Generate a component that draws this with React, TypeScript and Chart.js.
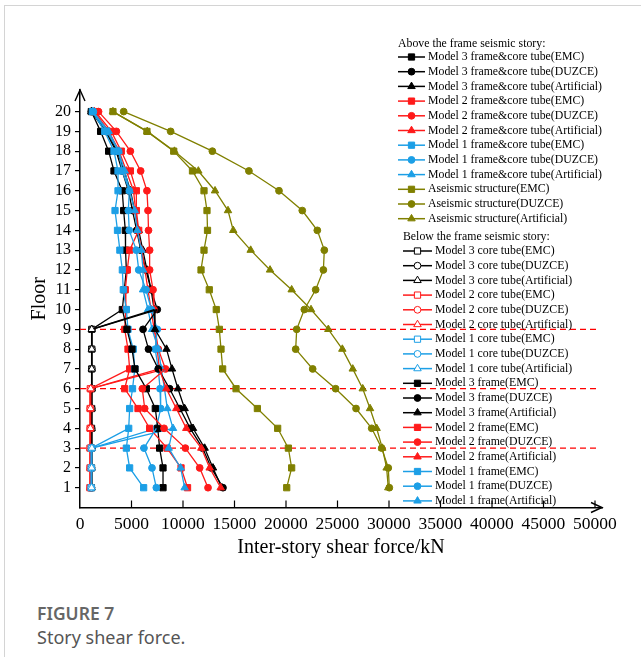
import React, { useEffect, useRef } from "react";
import { Chart, registerables } from "chart.js";

Chart.register(...registerables);

const SERIF = "'Liberation Serif', 'Times New Roman', serif";

// Floors, listed from the roof downwards
const floorsAll = [20, 19, 18, 17, 16, 15, 14, 13, 12, 11, 10, 9, 8, 7, 6, 5, 4, 3, 2, 1];
const floorsM3Above = [20, 19, 18, 17, 16, 15, 14, 13, 12, 11, 10];
const floorsM2Above = [20, 19, 18, 17, 16, 15, 14, 13, 12, 11, 10, 9, 8, 7];
const floorsM1Above = [20, 19, 18, 17, 16, 15, 14, 13, 12, 11, 10, 9, 8, 7, 6, 5, 4];
const floorsM3Below = [9, 8, 7, 6, 5, 4, 3, 2, 1];
const floorsM2Below = [6, 5, 4, 3, 2, 1];
const floorsM1Below = [3, 2, 1];

// Frame seismic stories of models 3, 2 and 1
const seismicStories = [9, 6, 3];

const xTicks = [0, 5000, 10000, 15000, 20000, 25000, 30000, 35000, 40000, 45000, 50000];
const yTicks = [1, 2, 3, 4, 5, 6, 7, 8, 9, 10, 11, 12, 13, 14, 15, 16, 17, 18, 19, 20];

// Shear force (kN) above the frame seismic story: frame & core tube together
const m3EMC = [1100, 2000, 2780, 3300, 4100, 4240, 4400, 4420, 4500, 4300, 4110];
const m3DUZCE = [1100, 2500, 3500, 4100, 4700, 5100, 5500, 5900, 6400, 6900, 7500];
const m3Artificial = [1100, 2600, 3600, 4300, 4900, 5300, 5700, 6100, 6500, 6900, 7200];

const m2EMC = [1500, 3040, 4010, 4890, 5470, 5470, 5700, 4820, 4590, 4400, 4450, 4340, 4660, 4820];
const m2DUZCE = [1800, 3530, 4890, 5890, 6500, 6600, 6650, 6760, 6760, 7090, 7180, 7300, 7600, 8300];
const m2Artificial = [1400, 2800, 3800, 4500, 5200, 5400, 5600, 6000, 6300, 6600, 6900, 7200, 7500, 7700];

const m1EMC = [1200, 2400, 3300, 3690, 3690, 3400, 3640, 3870, 4110, 4200, 4500, 4660, 5170, 5320, 5100, 4820, 4730];
const m1DUZCE = [1300, 2600, 3750, 4100, 4790, 4690, 4780, 5470, 5700, 6410, 6920, 7500, 7300, 7600, 7770, 7830, 7410];
const m1Artificial = [1250, 2780, 3750, 4340, 4820, 5310, 5560, 5950, 6120, 6120, 6600, 7000, 7600, 7900, 8200, 8480, 9030];

const aseismicEMC = [3200, 6500, 9100, 10920, 12040, 12330, 12380, 12040, 11750, 12550, 13230, 13530, 13690, 13850, 15150, 17220, 19190, 20230, 20550, 20070];
const aseismicDUZCE = [4240, 8800, 12850, 16400, 19320, 21580, 23040, 23720, 23630, 22880, 21780, 21040, 20940, 22590, 24820, 26800, 28320, 29290, 29930, 30030];
const aseismicArtificial = [3200, 6530, 9170, 11490, 13110, 14370, 14880, 16570, 18450, 20550, 22430, 24110, 25470, 26480, 27450, 28160, 28800, 29350, 29770, 29930];

// Below the frame seismic story: core tube share
const m3CoreEMC = [1140, 1140, 1140, 1130, 1130, 1120, 1120, 1120, 1110];
const m3CoreDUZCE = [1160, 1150, 1150, 1140, 1140, 1130, 1130, 1120, 1120];
const m3CoreArtificial = [1140, 1140, 1140, 1150, 1140, 1140, 1130, 1130, 1130];
const m2CoreEMC = [1000, 980, 980, 970, 970, 960];
const m2CoreDUZCE = [1020, 1000, 1000, 990, 990, 980];
const m2CoreArtificial = [1040, 1020, 1010, 1000, 1000, 990];
const m1CoreEMC = [1100, 1090, 1080];
const m1CoreDUZCE = [1120, 1110, 1100];
const m1CoreArtificial = [1150, 1130, 1120];

// Below the frame seismic story: frame share
const m3FrameEMC = [4560, 5050, 5340, 6440, 7310, 7550, 7730, 8060, 8060];
const m3FrameDUZCE = [6120, 6650, 7600, 8700, 9700, 10700, 11900, 12750, 13880];
const m3FrameArtificial = [7280, 8400, 8930, 9510, 10160, 10970, 12100, 12910, 13780];
const m2FrameEMC = [4340, 5630, 6760, 8450, 9810, 10440];
const m2FrameDUZCE = [6050, 6280, 8160, 10230, 11620, 12430];
const m2FrameArtificial = [8380, 9350, 10320, 11780, 12590, 13660];
const m1FrameEMC = [4500, 4820, 6180];
const m1FrameDUZCE = [6210, 6990, 7410];
const m1FrameArtificial = [8610, 9770, 10160];

const BLACK = "#000000";
const RED = "#ff1a1a";
const BLUE = "#1c9fe6";
const OLIVE = "#808000";

type Marker = "rect" | "circle" | "triangle";

interface Series {
  label: string;
  floors: number[];
  values: number[];
  color: string;
  marker: Marker;
  open: boolean;
  // the storey above the seismic story the line starts from
  joinFloors?: number[];
  joinValues?: number[];
}

const aboveSeries: Series[] = [
  { label: "Model 3 frame&core tube(EMC)", floors: floorsM3Above, values: m3EMC, color: BLACK, marker: "rect", open: false },
  { label: "Model 3 frame&core tube(DUZCE)", floors: floorsM3Above, values: m3DUZCE, color: BLACK, marker: "circle", open: false },
  { label: "Model 3 frame&core tube(Artificial)", floors: floorsM3Above, values: m3Artificial, color: BLACK, marker: "triangle", open: false },
  { label: "Model 2 frame&core tube(EMC)", floors: floorsM2Above, values: m2EMC, color: RED, marker: "rect", open: false },
  { label: "Model 2 frame&core tube(DUZCE)", floors: floorsM2Above, values: m2DUZCE, color: RED, marker: "circle", open: false },
  { label: "Model 2 frame&core tube(Artificial)", floors: floorsM2Above, values: m2Artificial, color: RED, marker: "triangle", open: false },
  { label: "Model 1 frame&core tube(EMC)", floors: floorsM1Above, values: m1EMC, color: BLUE, marker: "rect", open: false },
  { label: "Model 1 frame&core tube(DUZCE)", floors: floorsM1Above, values: m1DUZCE, color: BLUE, marker: "circle", open: false },
  { label: "Model 1 frame&core tube(Artificial)", floors: floorsM1Above, values: m1Artificial, color: BLUE, marker: "triangle", open: false },
  { label: "Aseismic structure(EMC)", floors: floorsAll, values: aseismicEMC, color: OLIVE, marker: "rect", open: false },
  { label: "Aseismic structure(DUZCE)", floors: floorsAll, values: aseismicDUZCE, color: OLIVE, marker: "circle", open: false },
  { label: "Aseismic structure(Artificial)", floors: floorsAll, values: aseismicArtificial, color: OLIVE, marker: "triangle", open: false },
];

const below = (
  label: string, floors: number[], values: number[], color: string, marker: Marker, open: boolean,
  joinFloors: number[], joinValues: number[]
): Series => ({ label, floors, values, color, marker, open, joinFloors, joinValues });

const belowSeries: Series[] = [
  below("Model 3 core tube(EMC)", floorsM3Below, m3CoreEMC, BLACK, "rect", true, floorsM3Above, m3EMC),
  below("Model 3 core tube(DUZCE)", floorsM3Below, m3CoreDUZCE, BLACK, "circle", true, floorsM3Above, m3DUZCE),
  below("Model 3 core tube(Artificial)", floorsM3Below, m3CoreArtificial, BLACK, "triangle", true, floorsM3Above, m3Artificial),
  below("Model 2 core tube(EMC)", floorsM2Below, m2CoreEMC, RED, "rect", true, floorsM2Above, m2EMC),
  below("Model 2 core tube(DUZCE)", floorsM2Below, m2CoreDUZCE, RED, "circle", true, floorsM2Above, m2DUZCE),
  below("Model 2 core tube(Artificial)", floorsM2Below, m2CoreArtificial, RED, "triangle", true, floorsM2Above, m2Artificial),
  below("Model 1 core tube(EMC)", floorsM1Below, m1CoreEMC, BLUE, "rect", true, floorsM1Above, m1EMC),
  below("Model 1 core tube(DUZCE)", floorsM1Below, m1CoreDUZCE, BLUE, "circle", true, floorsM1Above, m1DUZCE),
  below("Model 1 core tube(Artificial)", floorsM1Below, m1CoreArtificial, BLUE, "triangle", true, floorsM1Above, m1Artificial),
  below("Model 3 frame(EMC)", floorsM3Below, m3FrameEMC, BLACK, "rect", false, floorsM3Above, m3EMC),
  below("Model 3 frame(DUZCE)", floorsM3Below, m3FrameDUZCE, BLACK, "circle", false, floorsM3Above, m3DUZCE),
  below("Model 3 frame(Artificial)", floorsM3Below, m3FrameArtificial, BLACK, "triangle", false, floorsM3Above, m3Artificial),
  below("Model 2 frame(EMC)", floorsM2Below, m2FrameEMC, RED, "rect", false, floorsM2Above, m2EMC),
  below("Model 2 frame(DUZCE)", floorsM2Below, m2FrameDUZCE, RED, "circle", false, floorsM2Above, m2DUZCE),
  below("Model 2 frame(Artificial)", floorsM2Below, m2FrameArtificial, RED, "triangle", false, floorsM2Above, m2Artificial),
  below("Model 1 frame(EMC)", floorsM1Below, m1FrameEMC, BLUE, "rect", false, floorsM1Above, m1EMC),
  below("Model 1 frame(DUZCE)", floorsM1Below, m1FrameDUZCE, BLUE, "circle", false, floorsM1Above, m1DUZCE),
  below("Model 1 frame(Artificial)", floorsM1Below, m1FrameArtificial, BLUE, "triangle", false, floorsM1Above, m1Artificial),
];

const RADIUS: Record<Marker, number> = { rect: 4.4, circle: 3.4, triangle: 4.3 };

// later series are painted over earlier ones
function toDataset(s: Series, index: number) {
  const pts = s.floors.map((f, i) => ({ x: s.values[i], y: f }));
  let joined = false;
  if (s.joinFloors && s.joinValues) {
    const k = s.joinFloors.length - 1;
    pts.unshift({ x: s.joinValues[k], y: s.joinFloors[k] });
    joined = true;
  }
  const r = RADIUS[s.marker];
  return {
    label: s.label,
    data: pts,
    order: -index,
    showLine: true,
    borderColor: s.color,
    borderWidth: 1.3,
    backgroundColor: s.open ? "#ffffff" : s.color,
    pointBackgroundColor: s.open ? "#ffffff" : s.color,
    pointBorderColor: s.color,
    pointBorderWidth: 1,
    pointStyle: s.marker,
    pointRadius: (ctx: any) => (joined && ctx.dataIndex === 0 ? 0 : r),
    tension: 0,
  };
}

function drawMarker(ctx: CanvasRenderingContext2D, m: Marker, x: number, y: number, fill: string, stroke: string) {
  const r = RADIUS[m];
  ctx.beginPath();
  if (m === "rect") {
    const s = r * Math.SQRT1_2;
    ctx.rect(x - s, y - s, 2 * s, 2 * s);
  } else if (m === "circle") {
    ctx.arc(x, y, r, 0, Math.PI * 2);
  } else {
    let a = 0;
    ctx.moveTo(x + Math.sin(a) * r, y - Math.cos(a) * r);
    a += (2 * Math.PI) / 3;
    ctx.lineTo(x + Math.sin(a) * r, y - Math.cos(a) * r);
    a += (2 * Math.PI) / 3;
    ctx.lineTo(x + Math.sin(a) * r, y - Math.cos(a) * r);
    ctx.closePath();
  }
  ctx.fillStyle = fill;
  ctx.fill();
  ctx.strokeStyle = stroke;
  ctx.lineWidth = 1;
  ctx.stroke();
}

const legendGroups = [
  { title: "Above the frame seismic story:", items: aboveSeries, x: 398, titleY: 43.5, firstY: 57, step: 14.7, lineLen: 27 },
  { title: "Below the frame seismic story:", items: belowSeries, x: 403, titleY: 237, firstY: 251, step: 14.7, lineLen: 29 },
];

const storyLegend = {
  id: "storyLegend",
  afterDatasetsDraw(chart: any) {
    const ctx: CanvasRenderingContext2D = chart.ctx;
    ctx.save();
    ctx.font = `11.8px ${SERIF}`;
    ctx.textBaseline = "middle";
    ctx.textAlign = "left";
    legendGroups.forEach((g) => {
      ctx.fillStyle = "#000";
      ctx.fillText(g.title, g.x, g.titleY);
      g.items.forEach((s, i) => {
        const y = g.firstY + i * g.step;
        ctx.strokeStyle = s.color;
        ctx.lineWidth = 1.5;
        ctx.beginPath();
        ctx.moveTo(g.x, y);
        ctx.lineTo(g.x + g.lineLen, y);
        ctx.stroke();
        drawMarker(ctx, s.marker, g.x + g.lineLen / 2, y, s.open ? "#ffffff" : s.color, s.color);
        ctx.fillStyle = "#000";
        ctx.fillText(s.label, g.x + g.lineLen + 3, y);
      });
    });
    ctx.restore();
  },
};

const axisDecor = {
  id: "axisDecor",
  afterDraw(chart: any) {
    const { ctx, chartArea, scales } = chart;
    const xs = scales.x;
    ctx.save();
    ctx.strokeStyle = "#000";
    ctx.lineWidth = 1.2;
    // inward tick marks on the shear-force axis
    xTicks.forEach((v) => {
      if (v === 0) return;
      const px = xs.getPixelForValue(v);
      ctx.beginPath();
      ctx.moveTo(px, chartArea.bottom);
      ctx.lineTo(px, chartArea.bottom - 7);
      ctx.stroke();
    });
    // open arrow heads at the axis ends
    ctx.lineWidth = 1.4;
    ctx.beginPath();
    ctx.moveTo(chartArea.right - 11, chartArea.bottom - 5);
    ctx.lineTo(chartArea.right, chartArea.bottom);
    ctx.lineTo(chartArea.right - 11, chartArea.bottom + 5);
    ctx.stroke();
    ctx.beginPath();
    ctx.moveTo(chartArea.left - 5, chartArea.top + 11);
    ctx.lineTo(chartArea.left, chartArea.top);
    ctx.lineTo(chartArea.left + 5, chartArea.top + 11);
    ctx.stroke();
    ctx.restore();
  },
};

export default function App() {
  const canvasRef = useRef<HTMLCanvasElement>(null);

  useEffect(() => {
    const canvas = canvasRef.current;
    if (!canvas) return;

    const storyLines = seismicStories.map((f) => ({
      label: `story ${f}`,
      data: [
        { x: 0, y: f },
        { x: 50300, y: f },
      ],
      order: 100,
      showLine: true,
      borderColor: "#ff0000",
      borderWidth: 1.2,
      borderDash: [6, 4],
      pointRadius: 0,
    }));

    const allSeries = [...aboveSeries, ...belowSeries];
    const datasets: any[] = [...allSeries.map(toDataset), ...storyLines];

    const chart = new Chart(canvas, {
      type: "scatter",
      data: { datasets },
      options: {
        responsive: false,
        animation: false,
        events: [],
        layout: { padding: { left: 0, top: 90, right: 39, bottom: 0.5 } },
        plugins: { legend: { display: false }, tooltip: { enabled: false } },
        scales: {
          x: {
            type: "linear",
            min: 0,
            max: 50680,
            afterBuildTicks: (s: any) => {
              s.ticks = xTicks.map((v) => ({ value: v }));
            },
            afterFit: (s: any) => {
              s.height = 62;
            },
            grid: { display: false, drawTicks: false },
            border: { display: true, color: "#000", width: 1.5 },
            ticks: {
              color: "#000",
              font: { family: SERIF, size: 17.5 },
              padding: 6,
              maxRotation: 0,
              autoSkip: false,
              callback: (v: any) => String(v),
            },
            title: {
              display: true,
              text: "Inter-story shear force/kN",
              color: "#000",
              font: { family: SERIF, size: 20 },
              padding: { top: 0, bottom: 9.5 },
            },
          },
          y: {
            type: "linear",
            min: 0,
            max: 21.09,
            afterBuildTicks: (s: any) => {
              s.ticks = yTicks.map((v) => ({ value: v }));
            },
            afterFit: (s: any) => {
              s.width = 80;
            },
            grid: { display: true, drawOnChartArea: false, drawTicks: true, tickLength: 5, color: "#000", lineWidth: 1.2 },
            border: { display: true, color: "#000", width: 1.5 },
            ticks: {
              color: "#000",
              font: { family: SERIF, size: 16 },
              padding: 4,
              autoSkip: false,
              callback: (v: any) => String(v),
            },
            title: {
              display: true,
              text: "Floor",
              color: "#000",
              font: { family: SERIF, size: 20 },
              padding: { top: 28, bottom: 0 },
            },
          },
        },
      },
      plugins: [storyLegend, axisDecor],
    } as any);

    return () => chart.destroy();
  }, []);

  return (
    <div style={{ position: "absolute", left: 0, top: 0, width: 641, height: 657, overflow: "hidden", background: "#fff" }}>
      <div
        style={{
          position: "absolute",
          left: 4,
          top: 5,
          width: 700,
          height: 700,
          borderTop: "1px solid #d4d4d4",
          borderLeft: "1px solid #d4d4d4",
        }}
      />
      <canvas
        ref={canvasRef}
        width={641}
        height={570}
        style={{ position: "absolute", left: 0, top: 0, width: 641, height: 570 }}
      />
      <div
        style={{
          position: "absolute",
          left: 37,
          top: 602,
          fontFamily: "'Noto Sans', sans-serif",
          fontWeight: 600,
          fontSize: 17.5,
          lineHeight: "22px",
          color: "#666666",
          whiteSpace: "nowrap",
        }}
      >
        FIGURE 7
      </div>
      <div
        style={{
          position: "absolute",
          left: 37,
          top: 626,
          fontFamily: "'Noto Sans', sans-serif",
          fontSize: 18,
          lineHeight: "22px",
          color: "#555555",
          whiteSpace: "nowrap",
        }}
      >
        Story shear force.
      </div>
    </div>
  );
}
